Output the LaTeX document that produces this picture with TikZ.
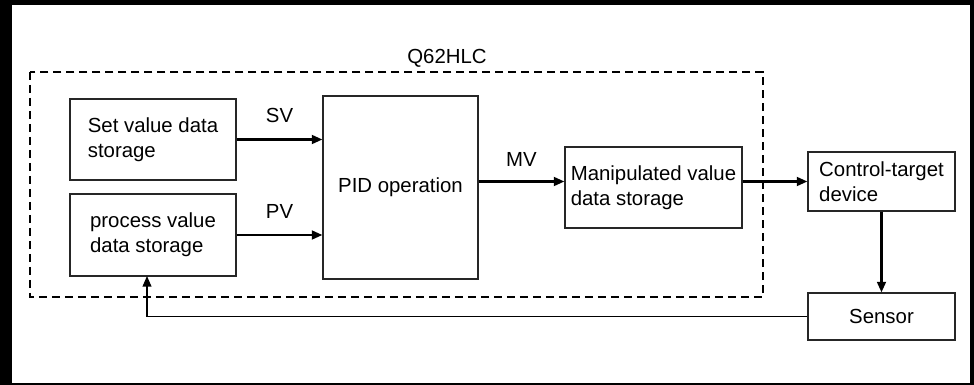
\documentclass[tikz,border=0pt]{standalone}
\usepackage{fontspec}
\setmainfont{Liberation Sans}
\usetikzlibrary{arrows.meta}

\begin{document}
\begin{tikzpicture}[x=0.02cm, y=-0.02cm, >={Triangle[length=6pt,width=5pt]}, font=\fontsize{11.6}{14.2}\selectfont]
    \tikzstyle{box} = [rectangle, draw=black!85, line width=0.7pt, inner sep=2pt, align=left]
    \tikzstyle{flow} = [->, line width=1.3pt]
    \tikzstyle{lbl} = [inner sep=0pt]

    % frame
    \fill [black] (0,0) rectangle (974,385);
    \fill [white] (12,5) rectangle (970,383);
    \useasboundingbox (0,0) rectangle (974,385);

    % Q62HLC module
    \draw [line width=1.2pt, dash pattern=on 0.16cm off 0.1cm] (30,72) rectangle (763,297);
    \node [lbl] (q62) at (447,58) {Q62HLC};

    \node [box, minimum width=3.32cm, minimum height=1.62cm] (sv) at (153,139.5) {Set value data\\storage};
    \node [box, minimum width=3.32cm, minimum height=1.64cm] (pv) at (153,235) {process value\\data storage};
    \node [box, align=center, minimum width=3.1cm, minimum height=3.66cm] (pid) at (400.5,187.5) {PID operation};
    \node [box, minimum width=3.54cm, minimum height=1.62cm] (mvs) at (653.5,187.5) {Manipulated value\\data storage};
    \node [box, minimum width=2.94cm, minimum height=1.18cm] (dev) at (881.5,181.5) {Control-target\\device};
    \node [box, align=center, minimum width=2.94cm, minimum height=0.94cm] (sen) at (881.5,316.5) {Sensor};

    \draw [flow] (sv.east) -- node [lbl, above=9pt] {SV} (sv.east -| pid.west);
    \draw [flow] (pv.east) -- node [lbl, above=9pt] {PV} (pv.east -| pid.west);
    \draw [flow] (pid.east |- dev.west) -- node [lbl, above=8pt] {MV} (mvs.west |- dev.west);
    \draw [flow] (mvs.east |- dev.west) -- (dev.west);
    \draw [flow] (dev) -- (sen);
    \draw [->, line width=0.7pt] (sen.west) -| (147,276);
\end{tikzpicture}
\end{document}
